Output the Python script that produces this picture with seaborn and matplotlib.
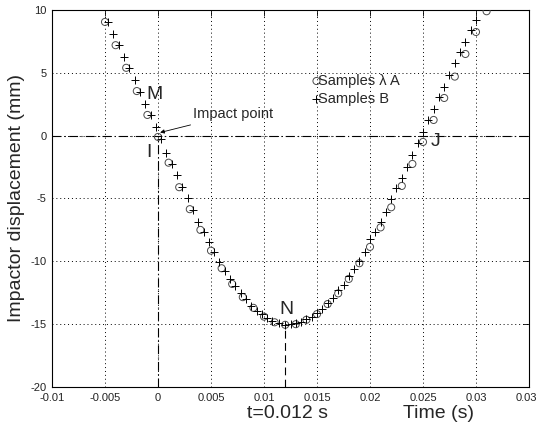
import numpy as np
import pandas as pd
import seaborn as sns
import matplotlib.pyplot as plt
import matplotlib.transforms as mtransforms

# samples A (circles)
t_a = [-0.005, -0.004, -0.003, -0.002, -0.001, 0.000, 0.001, 0.002, 0.003, 0.004,
       0.005, 0.006, 0.007, 0.008, 0.009, 0.010, 0.011, 0.012, 0.013, 0.014,
       0.015, 0.016, 0.017, 0.018, 0.019, 0.020, 0.021, 0.022, 0.023, 0.024,
       0.025, 0.026, 0.027, 0.028, 0.029, 0.030, 0.031]
y_a = [9.05, 7.2, 5.4, 3.55, 1.65, -0.1, -2.15, -4.1, -5.85, -7.5,
       -9.15, -10.55, -11.8, -12.85, -13.7, -14.4, -14.85, -15.05, -15.0, -14.65,
       -14.2, -13.4, -12.55, -11.4, -10.15, -8.85, -7.3, -5.7, -4.0, -2.25,
       -0.5, 1.25, 3.0, 4.7, 6.5, 8.25, 9.9]

# samples B (crosses)
t_b = [-0.0047, -0.0042, -0.0037, -0.0032, -0.0027, -0.0022, -0.0017, -0.0012, -0.0007, -0.0002,
       0.0003, 0.0008, 0.0013, 0.0018, 0.0023, 0.0028, 0.0033, 0.0038, 0.0043, 0.0048,
       0.0053, 0.0058, 0.0063, 0.0068, 0.0073, 0.0078, 0.0083, 0.0088, 0.0093, 0.0098,
       0.0103, 0.0108, 0.0114,
       0.0120, 0.0125, 0.0130, 0.0135, 0.0140, 0.0145, 0.0150, 0.0155, 0.0160, 0.0165,
       0.0170, 0.0175, 0.0180, 0.0185, 0.0190, 0.0195, 0.0200, 0.0205, 0.0210, 0.0215,
       0.0220, 0.0225, 0.0230, 0.0235, 0.0240, 0.0245, 0.0250, 0.0255, 0.0260, 0.0265,
       0.0270, 0.0275, 0.0280, 0.0285, 0.0290, 0.0295, 0.0300]
y_b = [9.05, 8.1, 7.2, 6.25, 5.4, 4.45, 3.5, 2.5, 1.65, 0.65,
       -0.3, -1.4, -2.25, -3.1, -4.1, -5.0, -5.9, -6.9, -7.7, -8.5,
       -9.25, -10.05, -10.75, -11.4, -11.95, -12.5, -13.0, -13.55, -13.95, -14.2,
       -14.5, -14.75, -14.9,
       -15.1, -15.0, -14.9, -14.8, -14.6, -14.4, -14.1, -13.8, -13.35, -12.95,
       -12.3, -11.9, -11.15, -10.6, -9.95, -9.25, -8.2, -7.65, -6.85, -6.05,
       -5.05, -4.15, -3.35, -2.5, -1.55, -0.6, 0.3, 1.25, 2.1, 3.1,
       3.9, 4.8, 5.8, 6.65, 7.45, 8.4, 9.2]

x_ticks = [-0.01, -0.005, 0, 0.005, 0.01, 0.015, 0.02, 0.025, 0.03, 0.035]
x_labels = ['-0.01', '-0.005', '0', '0.005', '0.01', '0.015', '0.02', '0.025', '0.03', '0.035']
y_ticks = [-20, -15, -10, -5, 0, 5, 10]
y_labels = ['-20', '-15', '-10', '-5', '0', '5', '10']

sns.set_style('white')
plt.rcParams['font.family'] = ['Liberation Sans', 'DejaVu Sans']

fig = plt.figure(figsize=(5.36, 4.25), dpi=100)
ax = fig.add_axes([52/536, 38/425, 477/536, 377/425])

dfa = pd.DataFrame({'t': t_a, 'y': y_a})
dfb = pd.DataFrame({'t': t_b, 'y': y_b})
sns.scatterplot(data=dfa, x='t', y='y', ax=ax, marker='o', s=26, facecolors='none',
                edgecolor='#4a4a4a', linewidth=0.7, label='Samples \u03bb A', zorder=3)
sns.scatterplot(data=dfb, x='t', y='y', ax=ax, marker='+', s=32, color='black',
                linewidth=0.7, label='Samples B', zorder=3)

ax.set_xlim(-0.01, 0.035)
ax.set_ylim(-20, 10)
ax.set_xticks(x_ticks)
ax.set_xticklabels(x_labels)
ax.set_yticks(y_ticks)
ax.set_yticklabels(y_labels)
ax.tick_params(direction='in', top=True, right=True, length=4, width=0.6,
               labelsize=8, colors='black', labelcolor='#222222', pad=4)
ax.grid(True, linestyle=(0, (1, 3)), color='black', linewidth=0.7)
for s in ax.spines.values():
    s.set_linewidth(0.8)
    s.set_color('black')

# reference lines
ax.axhline(0, color='black', linestyle=(0, (8, 3, 1, 3)), linewidth=0.8, zorder=2)
ax.plot([0, 0], [-20, 0], color='black', linestyle=(0, (8, 3, 1, 3)), linewidth=0.8, zorder=2)
ax.plot([0.012, 0.012], [-20, -15], color='black', linestyle=(0, (7, 4)), linewidth=0.8, zorder=2)

ax.text(-0.0003, 3.3, 'M', fontsize=14, ha='center', va='center')
ax.text(-0.0009, -1.3, 'I', fontsize=14, ha='center', va='center')
ax.text(0.0262, -0.45, 'J', fontsize=14, ha='center', va='center')
ax.text(0.0121, -13.8, 'N', fontsize=14, ha='center', va='center')
ax.annotate('Impact point', xy=(0.0002, 0.25), xytext=(0.0033, 1.7), fontsize=10.5,
            ha='left', va='center',
            arrowprops=dict(arrowstyle='-|>', color='black', lw=0.6,
                            shrinkA=1, shrinkB=0, mutation_scale=6))

trans = mtransforms.blended_transform_factory(ax.transData, fig.transFigure)
ax.text(0.0122, (425-414)/425, 't=0.012 s', fontsize=14, ha='center', va='center', transform=trans)
ax.text(0.0265, (425-414)/425, 'Time (s)', fontsize=14, ha='center', va='center', transform=trans)
ax.set_xlabel('')
ax.set_ylabel('Impactor displacement (mm)', fontsize=14, labelpad=4)

ax.legend(loc='upper left', bbox_to_anchor=(0.53, 0.85), frameon=False, fontsize=10.5,
          handlelength=0.6, handletextpad=-0.2, borderpad=0, labelspacing=0.3)

plt.savefig('out.png', dpi=100)
